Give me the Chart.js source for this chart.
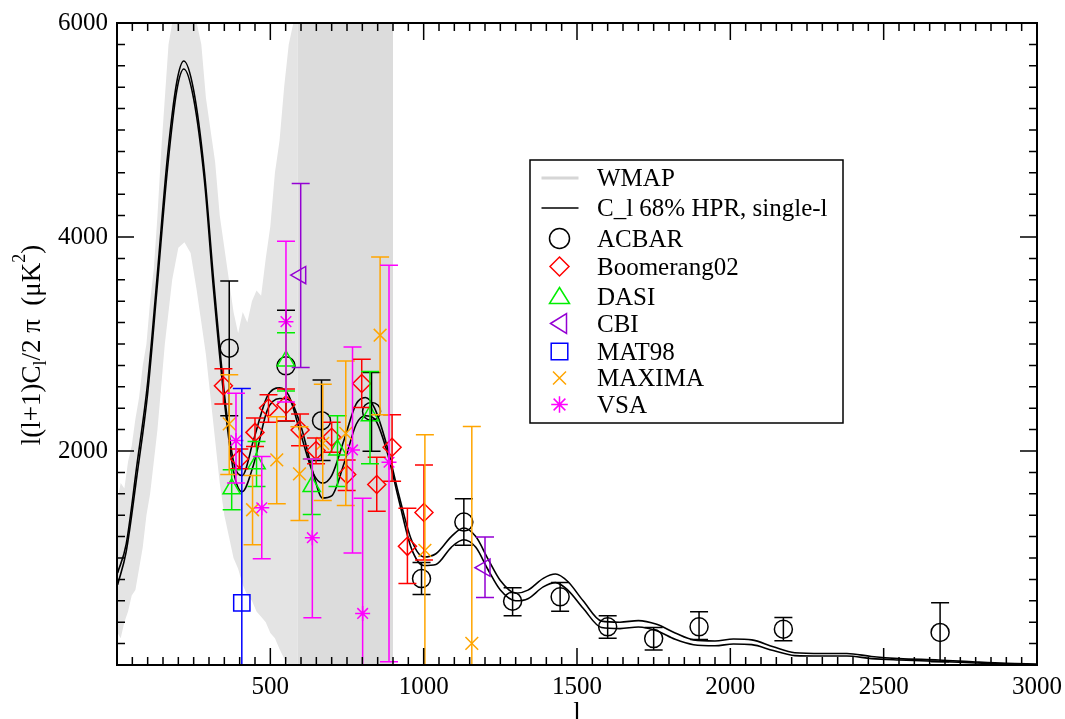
<!DOCTYPE html>
<html><head><meta charset="utf-8">
<script src="https://cdn.jsdelivr.net/npm/chart.js@4.4.1/dist/chart.umd.min.js"></script>
<style>html,body{margin:0;padding:0;background:#fff;} #wrap{width:1065px;height:719px;position:relative;}</style>
</head><body><div id="wrap"><canvas id="c"></canvas></div>
<script>
// ---------- data ----------
const xTickLabels = ['500','1000','1500','2000','2500','3000'];
const yTickLabels = ['2000','4000','6000'];

// WMAP spectrum (scatter envelope)
const wmapL  = [2,12,24,36,48,60,72,84,96,108,120,132,144,156,168,180,200,220,240,260,275,290,305,320,335,350,365,380,395,410,425,440,455,470,485,500,515,530,545,560,575,590];
const wmapHi = [1550,1700,1650,1900,2050,2300,2500,2800,3000,3400,3700,4200,4800,5300,5800,6000,6000,6000,6000,6000,5800,5300,5000,4700,4200,3900,3600,3300,3100,3300,3200,3400,3500,3450,3800,4100,4600,4900,5400,5800,6000,6000];
const wmapLo = [300,250,400,500,650,700,900,1100,1400,1600,1900,2200,2600,3000,3300,3600,3900,3950,3850,3500,3200,2900,2500,2100,1700,1400,1200,1000,900,750,650,600,500,450,400,300,250,150,60,0,0,0];
const wmapBlockL  = [590, 900];
const wmapBlockHi = [6000, 6000];
const wmapBlockLo = [0, 0];

// C_l 68% HPR band (upper / lower)
const thL  = [2,30,65,100,130,165,195,218,250,285,315,350,380,408,445,490,530,560,600,640,670,700,740,780,810,840,880,920,960,1000,1040,1090,1130,1170,1210,1250,1300,1340,1390,1430,1470,1520,1580,1640,1700,1760,1820,1880,1950,2010,2070,2140,2210,2300,2380,2460,2550,2680,2800,2900,3000];
const thUp = [860,1130,1870,2640,3600,4760,5450,5645,5370,4610,3600,2540,1900,1770,2100,2510,2590,2520,2150,1790,1700,1770,2100,2440,2500,2400,2050,1580,1170,1010,1040,1200,1280,1200,990,790,670,700,810,850,780,600,410,400,415,380,300,235,225,243,235,170,115,108,108,80,60,47,28,15,9];
const thLo = [750,1060,1770,2540,3500,4650,5370,5570,5290,4530,3500,2470,1810,1620,1870,2380,2490,2480,2230,1790,1560,1580,1880,2250,2330,2300,2000,1530,1090,930,940,1100,1170,1100,890,700,600,620,730,770,700,530,350,340,355,320,240,190,180,196,190,135,88,84,84,60,47,34,19,8,3];

// ACBAR
const acbarL  = [366,551,667,830,993,1131,1290,1445,1600,1750,1898,2173,2684];
const acbarV  = [2961,2796,2283,2370,808,1336,596,637,357,247,357,335,304];
const acbarHi = [3588,3315,2663,2734,957,1553,721,771,460,351,497,444,581];
const acbarLo = [2330,2280,1911,1997,659,1118,460,503,249,140,239,227,31];
// Boomerang02
const boomL  = [347,399,450,494,551,597,649,700,749,798,847,897,947,1001];
const boomV  = [2609,1926,2174,2401,2432,2196,2004,2128,1780,2631,1687,2035,1109,1425];
const boomHi = [2768,2019,2308,2526,2579,2346,2122,2268,1917,2858,1941,2339,1466,1870];
const boomLo = [2439,1833,2041,2268,2283,2050,1880,1988,1631,2407,1438,1718,761,982];
// DASI
const dasiL  = [374,455,551,635,719,825];
const dasiV  = [1647,1880,2842,1668,2010,2330];
const dasiHi = [1824,2088,3106,1926,2330,2743];
const dasiLo = [1451,1668,2560,1407,1668,1880];
// CBI
const cbiL  = [599,1200];
const cbiV  = [3644,910];
const cbiHi = [4501,1196];
const cbiLo = [2780,631];
// MAT98
const matL  = [407];
const matV  = [581];
const matHi = [2585];
const matLo = [-1423];
// MAXIMA
const maxL  = [366,442,521,595,671,746,858,1004,1157];
const maxV  = [2253,1451,1917,1786,2072,2165,3082,1072,202];
const maxHi = [2712,1771,2320,2227,2625,2842,3812,2153,2230];
const maxLo = [1780,1125,1507,1351,1538,1491,2339,-10,-1826];
// VSA
const vsaL  = [388,472,551,637,768,801,887];
const vsaV  = [2097,1470,3209,1190,2010,482,1895];
const vsaHi = [2540,1948,3961,1926,2973,1559,3737];
const vsaLo = [1700,994,2457,441,1047,-595,31];

// ---------- styling ----------
const FONT = "'Liberation Serif', 'DejaVu Serif', serif";
const C = {acbar:'#000000', boom:'#ff0000', dasi:'#00ee00', cbi:'#9400d3', mat:'#0000ff', max:'#ffa500', vsa:'#ff00ff', wmap:'#e4e4e4', block:'#dcdcdc'};

const pts = (xs, ys) => xs.map((v, i) => ({x: v, y: ys[i]}));

const series = [
  {label:'ACBAR',       l:acbarL, v:acbarV, hi:acbarHi, lo:acbarLo, color:C.acbar, style:'circle',   r:9,   rot:0,   leg:'circle'},
  {label:'Boomerang02', l:boomL,  v:boomV,  hi:boomHi,  lo:boomLo,  color:C.boom,  style:'rectRot',  r:9,   rot:0,   leg:'diamond'},
  {label:'DASI',        l:dasiL,  v:dasiV,  hi:dasiHi,  lo:dasiLo,  color:C.dasi,  style:'triangle', r:10,  rot:0,   leg:'triUp'},
  {label:'CBI',         l:cbiL,   v:cbiV,   hi:cbiHi,   lo:cbiLo,   color:C.cbi,   style:'triangle', r:10,  rot:270, leg:'triLeft'},
  {label:'MAT98',       l:matL,   v:matV,   hi:matHi,   lo:matLo,   color:C.mat,   style:'rect',     r:11.5,rot:0,   leg:'square'},
  {label:'MAXIMA',      l:maxL,   v:maxV,   hi:maxHi,   lo:maxLo,   color:C.max,   style:'crossRot', r:9,   rot:0,   leg:'x'},
  {label:'VSA',         l:vsaL,   v:vsaV,   hi:vsaHi,   lo:vsaLo,   color:C.vsa,   style:'star',     r:7.5, rot:0,   leg:'star'}
];

const datasets = [
  {label:'WMAP', data:pts(wmapL, wmapHi), showLine:true, borderWidth:0, borderColor:'rgba(0,0,0,0)', pointRadius:0, fill:'+1', backgroundColor:C.wmap, tension:0, order:100},
  {label:'wmapLo', data:pts(wmapL, wmapLo), showLine:true, borderWidth:0, borderColor:'rgba(0,0,0,0)', pointRadius:0, fill:false, tension:0, order:100},
  {label:'WMAPblock', data:pts(wmapBlockL, wmapBlockHi), showLine:true, borderWidth:0, borderColor:'rgba(0,0,0,0)', pointRadius:0, fill:'+1', backgroundColor:C.block, tension:0, order:99},
  {label:'wmapBlockLo', data:pts(wmapBlockL, wmapBlockLo), showLine:true, borderWidth:0, borderColor:'rgba(0,0,0,0)', pointRadius:0, fill:false, tension:0, order:99},
  {label:'C_l up', data:pts(thL, thUp), showLine:true, borderColor:'#000', borderWidth:1.6, pointRadius:0, fill:false, cubicInterpolationMode:'monotone', order:50},
  {label:'C_l lo', data:pts(thL, thLo), showLine:true, borderColor:'#000', borderWidth:1.6, pointRadius:0, fill:false, cubicInterpolationMode:'monotone', order:50}
];
series.forEach((s, i) => datasets.push({
  label:s.label, data:pts(s.l, s.v), showLine:false, fill:false,
  pointStyle:s.style, pointRadius:s.r, pointRotation:s.rot,
  pointBorderColor:s.color, pointBackgroundColor:'rgba(0,0,0,0)', pointBorderWidth:1.5,
  borderColor:s.color, backgroundColor:'rgba(0,0,0,0)', order:10 - i
}));

function legendShape(ctx, kind, x, y, color) {
  ctx.save();
  ctx.strokeStyle = color; ctx.lineWidth = 1.5; ctx.beginPath();
  if (kind === 'circle') { ctx.arc(x, y, 10, 0, Math.PI * 2); }
  else if (kind === 'diamond') { const r = 9.5; ctx.moveTo(x, y - r); ctx.lineTo(x + r, y); ctx.lineTo(x, y + r); ctx.lineTo(x - r, y); ctx.closePath(); }
  else if (kind === 'triUp') { ctx.moveTo(x, y - 9); ctx.lineTo(x + 10, y + 7); ctx.lineTo(x - 10, y + 7); ctx.closePath(); }
  else if (kind === 'triLeft') { ctx.moveTo(x - 9, y); ctx.lineTo(x + 7, y - 10); ctx.lineTo(x + 7, y + 10); ctx.closePath(); }
  else if (kind === 'square') { ctx.rect(x - 8.3, y - 8.3, 16.6, 16.6); }
  else if (kind === 'x') { const r = 6.5; ctx.moveTo(x - r, y - r); ctx.lineTo(x + r, y + r); ctx.moveTo(x + r, y - r); ctx.lineTo(x - r, y + r); }
  else if (kind === 'star') { const r = 8.3, d = r * Math.SQRT1_2; ctx.moveTo(x - r, y); ctx.lineTo(x + r, y); ctx.moveTo(x, y - r); ctx.lineTo(x, y + r); ctx.moveTo(x - d, y - d); ctx.lineTo(x + d, y + d); ctx.moveTo(x + d, y - d); ctx.lineTo(x - d, y + d); }
  ctx.stroke(); ctx.restore();
}

const decor = {
  id: 'decor',
  afterDatasetsDraw(chart) {
    const {ctx, chartArea: a, scales: {x, y}} = chart;
    ctx.save();
    ctx.beginPath(); ctx.rect(a.left, a.top, a.right - a.left, a.bottom - a.top); ctx.clip();
    ctx.lineWidth = 1.5;
    series.forEach(s => {
      ctx.strokeStyle = s.color;
      s.l.forEach((l, i) => {
        const px = x.getPixelForValue(l), ph = y.getPixelForValue(s.hi[i]), pl = y.getPixelForValue(s.lo[i]);
        ctx.beginPath();
        ctx.moveTo(px, ph); ctx.lineTo(px, pl);
        ctx.moveTo(px - 9, ph); ctx.lineTo(px + 9, ph);
        ctx.moveTo(px - 9, pl); ctx.lineTo(px + 9, pl);
        ctx.stroke();
      });
    });
    ctx.restore();
  },
  afterDraw(chart) {
    const {ctx, chartArea: a, scales: {x, y}} = chart;
    ctx.save();
    // frame
    ctx.strokeStyle = '#000'; ctx.lineWidth = 2;
    ctx.strokeRect(a.left, a.top, a.right - a.left, a.bottom - a.top);
    // ticks (inward, all four sides)
    ctx.lineWidth = 1.5; ctx.beginPath();
    for (let v = 0; v <= 3000; v += 50) {
      const px = x.getPixelForValue(v), len = (v % 500 === 0) ? 17 : 8;
      ctx.moveTo(px, a.bottom); ctx.lineTo(px, a.bottom - len);
      ctx.moveTo(px, a.top); ctx.lineTo(px, a.top + len);
    }
    for (let v = 0; v <= 6000; v += 200) {
      const py = y.getPixelForValue(v), len = (v % 2000 === 0) ? 17 : 8;
      ctx.moveTo(a.left, py); ctx.lineTo(a.left + len, py);
      ctx.moveTo(a.right, py); ctx.lineTo(a.right - len, py);
    }
    ctx.stroke();

    // x title
    ctx.fillStyle = '#000';
    ctx.font = '27px ' + FONT; ctx.textAlign = 'center'; ctx.textBaseline = 'alphabetic';
    ctx.fillText('l', (a.left + a.right) / 2, 721);

    // y title with sub/superscript
    const segs = [
      {t:'l(l+1)C', size:27, dy:0},
      {t:'l', size:18, dy:6},
      {t:'/2 \u03C0  (\u03BCK', size:27, dy:0},
      {t:'2', size:18, dy:-15},
      {t:')', size:27, dy:0}
    ];
    let total = 0;
    segs.forEach(s => { ctx.font = s.size + 'px ' + FONT; s.w = ctx.measureText(s.t).width; total += s.w; });
    ctx.save();
    ctx.translate(40, 345); ctx.rotate(-Math.PI / 2);
    ctx.textAlign = 'left';
    let cx = -total / 2;
    segs.forEach(s => { ctx.font = s.size + 'px ' + FONT; ctx.fillText(s.t, cx, s.dy); cx += s.w; });
    ctx.restore();

    // legend
    const bx = 530, by = 160, bw = 313, bh = 263;
    ctx.fillStyle = '#fff'; ctx.fillRect(bx, by, bw, bh);
    ctx.strokeStyle = '#000'; ctx.lineWidth = 1.5; ctx.strokeRect(bx, by, bw, bh);
    const rows = [178, 208, 238.5, 266.5, 296.5, 323.5, 351.5, 378, 404.5];
    const symX = 559.5, txtX = 597;
    ctx.font = '25px ' + FONT; ctx.fillStyle = '#000'; ctx.textAlign = 'left'; ctx.textBaseline = 'alphabetic';
    ctx.strokeStyle = '#d6d6d6'; ctx.lineWidth = 3;
    ctx.beginPath(); ctx.moveTo(541.5, rows[0]); ctx.lineTo(578.5, rows[0]); ctx.stroke();
    ctx.fillText('WMAP', txtX, rows[0] + 8);
    ctx.strokeStyle = '#000'; ctx.lineWidth = 1.5;
    ctx.beginPath(); ctx.moveTo(541.5, rows[1]); ctx.lineTo(578.5, rows[1]); ctx.stroke();
    ctx.fillText('C_l 68% HPR, single-l', txtX, rows[1] + 8);
    series.forEach((s, i) => {
      legendShape(ctx, s.leg, symX, rows[i + 2], s.color);
      ctx.fillStyle = '#000';
      ctx.fillText(s.label, txtX, rows[i + 2] + 8);
    });
    ctx.restore();
  }
};

new Chart(document.getElementById('c'), {
  type: 'line',
  data: { datasets },
  options: {
    responsive: true, maintainAspectRatio: false, animation: false, events: [],
    layout: { padding: { top: 23, right: 28, left: 0, bottom: 0 } },
    plugins: { legend: { display: false }, tooltip: { enabled: false } },
    scales: {
      x: {
        type: 'linear', min: 0, max: 3000,
        grid: { display: false, drawTicks: false }, border: { display: false },
        ticks: { stepSize: 500, autoSkip: false, maxRotation: 0, padding: 7, color: '#000',
                 font: { family: FONT, size: 25 },
                 callback: (v) => xTickLabels.includes(String(v)) ? String(v) : '' },
        afterFit: (s) => { s.height = 54; s.paddingLeft = 0; s.paddingRight = 0; }
      },
      y: {
        type: 'linear', min: 0, max: 6000,
        grid: { display: false, drawTicks: false }, border: { display: false },
        ticks: { stepSize: 2000, padding: 9, color: '#000',
                 font: { family: FONT, size: 25 },
                 callback: (v) => yTickLabels.includes(String(v)) ? String(v) : '' },
        afterFit: (s) => { s.width = 117; s.paddingTop = 0; s.paddingBottom = 0; }
      }
    }
  },
  plugins: [decor]
});
</script></body></html>
